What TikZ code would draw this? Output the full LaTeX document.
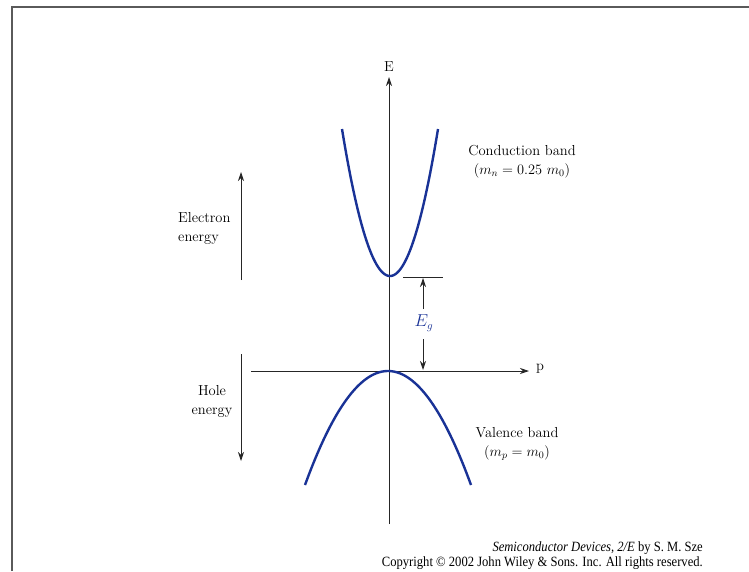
\documentclass[tikz,border=0pt]{standalone}
\usepackage{fontspec}
\newfontfamily\footfont{Liberation Serif}
\usetikzlibrary{arrows.meta}
\definecolor{bandblue}{RGB}{25,50,150}
\definecolor{framegray}{RGB}{90,90,90}
\begin{document}
\begin{tikzpicture}[x=1pt,y=-1pt,
  axis/.style={line width=0.9pt,black!85},
  arr/.style={-{Stealth[length=9pt,width=6pt]}},
  band/.style={line width=2.4pt,bandblue},
  lbl/.style={inner sep=0pt,font=\fontsize{14.5}{19}\selectfont},
  foot/.style={inner sep=0pt,font=\footfont\fontsize{12.6}{14}\selectfont,anchor=east,yscale=1.12}]
\useasboundingbox (0,0) rectangle (749,571);
% frame
\coordinate (fbl) at (12,571);
\coordinate (ftl) at (12,7);
\coordinate (ftr) at (749,7);
\draw[framegray,line width=1.2pt] (fbl) -- (ftl) -- (ftr);
% axes
\coordinate (ybot) at (389,524);
\coordinate (ytop) at (389,77);
\coordinate (xleft) at (251,371);
\coordinate (xright) at (529,371);
\draw[axis,arr] (ybot) -- (ytop);
\draw[axis,arr] (xleft) -- (xright);
\node[lbl] (E) at (389,67) {E};
\node[lbl] (p) at (540,369) {p};
% bands
\draw[band] plot[domain=-48:48,samples=80] ({390+\x},{276-147*(\x/48)^2});
\draw[band] plot[domain=-83:83,samples=80] ({388+\x},{371+114*(\x/83)^2});
% band gap
\coordinate (gl) at (403,277);
\coordinate (gr) at (443,277);
\draw[axis] (gl) -- (gr);
\node[lbl,text=bandblue,font=\fontsize{16}{19}\selectfont] (Eg) at (424,323) {$E_g$};
\coordinate (gtop) at (423,278);
\coordinate (gmid1) at (423,309);
\coordinate (gmid2) at (423,339);
\coordinate (gbot) at (423,370);
\draw[axis,arr] (gmid1) -- (gtop);
\draw[axis,arr] (gmid2) -- (gbot);
% electron / hole energy arrows
\coordinate (ea) at (241,280);
\coordinate (eb) at (241,172);
\draw[axis,arr] (ea) -- (eb);
\coordinate (ha) at (241,354);
\coordinate (hb) at (241,461);
\draw[axis,arr] (ha) -- (hb);
\node[lbl,align=left,anchor=west] (el) at (178,228) {Electron\\energy};
\node[lbl,align=center] (hl) at (212,401) {Hole\\energy};
% band labels
\node[lbl,align=center] (cb) at (522,162) {Conduction band\\$(m_n = 0.25\ m_0)$};
\node[lbl,align=center] (vb) at (517,444) {Valence band\\$(m_p = m_0)$};
% footer
\node[foot] (f1) at (703,548) {\itshape Semiconductor Devices, 2/E\upshape{} by S. M. Sze};
\node[foot] (f2) at (703,563) {Copyright © 2002 John Wiley \& Sons. Inc. All rights reserved.};
\end{tikzpicture}
\end{document}
